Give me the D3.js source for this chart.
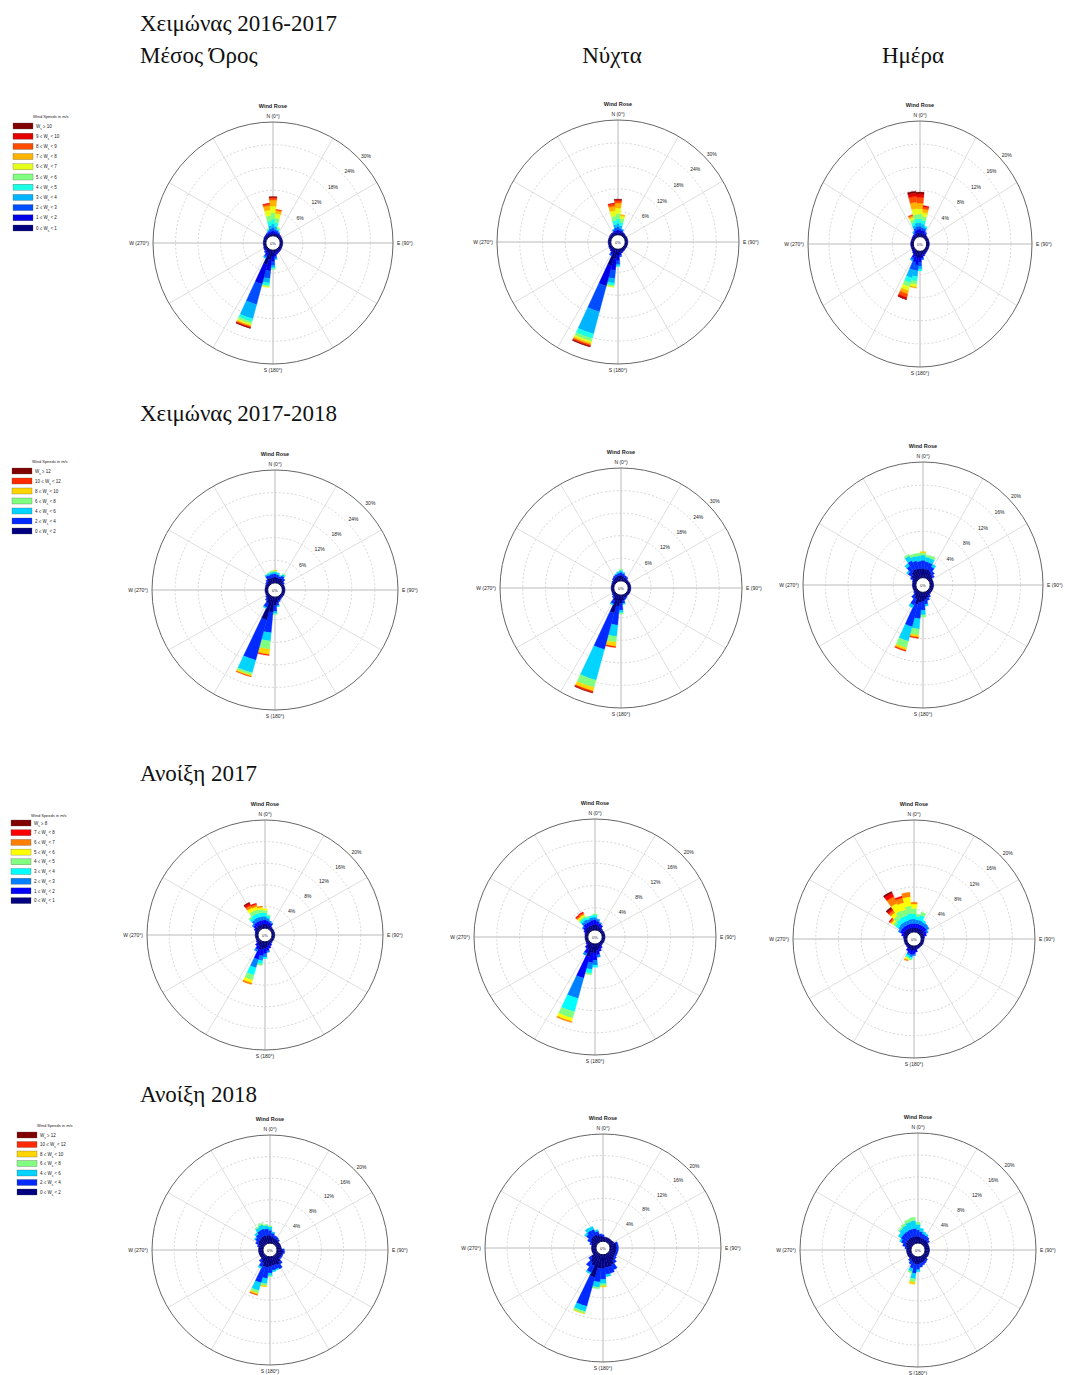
<!DOCTYPE html>
<html>
<head>
<meta charset="utf-8">
<script src="https://cdn.jsdelivr.net/npm/d3@7"></script>
<style>
  body { margin: 0; background: #fff; overflow: hidden; }
  svg { display: block; }
  svg text { font-family: "Liberation Sans", Arial, sans-serif; fill: #222; }
  .ttl { font-family: "Liberation Serif", "Times New Roman", serif; font-size: 23px; fill: #111; }
</style>
</head>
<body>
<svg id="fig" width="1065" height="1375"></svg>
<script>
// speed class lower edges (m/s), last class is open ended
const speeds11 = [0, 1, 2, 3, 4, 5, 6, 7, 8, 9, 10];
const speeds7 = [0, 2, 4, 6, 8, 10, 12];
const speeds9 = [0, 1, 2, 3, 4, 5, 6, 7, 8];

// ring tick labels (%)
const ticks30 = [6, 12, 18, 24, 30];
const ticks20 = [4, 8, 12, 16, 20];

const compass = [[0, "N (0°)"], [90, "E (90°)"], [180, "S (180°)"], [270, "W (270°)"]];

const rowTitles = ["Χειμώνας 2016-2017", "Χειμώνας 2017-2018", "Ανοίξη 2017", "Ανοίξη 2018"];
const colTitles = ["Μέσος Όρος", "Νύχτα", "Ημέρα"];

// frequency (%) per direction bin (10°), speed classes low -> high
const w1617Mean = [
  [0, [0.6, 0.7, 0.8, 1.0, 1.3, 1.6, 1.8, 1.6, 0.6, 0.2, 0.1]],
  [10, [0.6, 0.5, 0.6, 0.8, 1.0, 1.2, 1.2, 0.8, 0.3]],
  [20, [0.7, 0.4, 0.4, 0.3, 0.3, 0.2, 0.1]],
  [30, [0.7, 0.3, 0.2, 0.1]],
  [40, [0.7, 0.2]], [50, [0.7, 0.1]], [60, [0.7]], [70, [0.7]], [80, [0.7]], [90, [0.7]],
  [100, [0.7]], [110, [0.7]], [120, [0.7]], [130, [0.7, 0.1]], [140, [0.7, 0.2]], [150, [0.7, 0.3]],
  [160, [0.8, 0.4]],
  [170, [0.9, 0.8, 0.5, 0.3]],
  [180, [1.5, 1.5, 1.0, 0.6, 0.3, 0.2]],
  [190, [2.5, 3.0, 2.0, 1.2, 0.7, 0.3, 0.2]],
  [200, [4.0, 5.3, 5.6, 3.9, 0.8, 0.6, 0.4, 0.3, 0.2, 0.2, 0.1]],
  [210, [1.0, 0.8, 0.5, 0.3]],
  [220, [0.8, 0.4, 0.2]],
  [230, [0.7, 0.3]], [240, [0.7, 0.2]], [250, [0.7]], [260, [0.7]], [270, [0.7]], [280, [0.7]],
  [290, [0.7]], [300, [0.7, 0.1]], [310, [0.7, 0.2]], [320, [0.7, 0.3]],
  [330, [0.7, 0.3, 0.2]],
  [340, [0.7, 0.4, 0.3, 0.3, 0.2, 0.2]],
  [350, [0.6, 0.6, 0.7, 0.9, 1.1, 1.4, 1.5, 1.2, 0.5, 0.1]]
];

const w1617Night = [
  [0, [0.6, 0.7, 0.8, 0.9, 1.1, 1.4, 1.5, 1.3, 0.6, 0.3, 0.1]],
  [10, [0.6, 0.5, 0.6, 0.7, 0.9, 1.0, 0.7, 0.3]],
  [20, [0.7, 0.4, 0.3, 0.2]],
  [30, [0.7, 0.2]],
  [40, [0.7, 0.1]], [50, [0.7]], [60, [0.7]], [70, [0.7]], [80, [0.7]], [90, [0.7]],
  [100, [0.7]], [110, [0.7]], [120, [0.7]], [130, [0.7]], [140, [0.7, 0.1]], [150, [0.7, 0.2]],
  [160, [0.8, 0.3]],
  [170, [0.9, 0.7, 0.4]],
  [180, [1.5, 1.5, 0.9, 0.4, 0.2]],
  [190, [2.5, 3.0, 2.2, 1.2, 0.6, 0.3, 0.2]],
  [200, [4.5, 5.5, 7.0, 6.0, 1.2, 0.8, 0.5, 0.4, 0.3, 0.2, 0.1]],
  [210, [1.0, 0.7, 0.4]],
  [220, [0.8, 0.3]],
  [230, [0.7, 0.2]], [240, [0.7, 0.1]], [250, [0.7]], [260, [0.7]], [270, [0.7]], [280, [0.7]],
  [290, [0.7]], [300, [0.7]], [310, [0.7, 0.1]], [320, [0.7, 0.2]], [330, [0.7, 0.2]],
  [340, [0.7, 0.4, 0.3, 0.2]],
  [350, [0.6, 0.6, 0.7, 0.8, 1.0, 1.2, 1.4, 1.2, 0.6, 0.2]]
];

const w1617Day = [
  [0, [0.7, 0.6, 0.5, 0.6, 0.7, 0.8, 0.9, 1.0, 1.0, 0.6, 0.3]],
  [10, [0.6, 0.5, 0.5, 0.6, 0.6, 0.7, 0.7, 0.6, 0.4, 0.2]],
  [20, [0.6, 0.5, 0.4, 0.3, 0.2]],
  [30, [0.5, 0.3, 0.2]],
  [40, [0.5, 0.1]], [50, [0.5]], [60, [0.5]], [70, [0.5]], [80, [0.5]], [90, [0.5]],
  [100, [0.5]], [110, [0.5]], [120, [0.5]], [130, [0.5]], [140, [0.5, 0.1]], [150, [0.5, 0.2]],
  [160, [0.6, 0.3]],
  [170, [0.7, 0.5, 0.3]],
  [180, [1.0, 0.9, 0.7, 0.5, 0.3]],
  [190, [1.2, 1.2, 1.0, 1.0, 0.8, 0.6, 0.4, 0.2]],
  [200, [1.0, 1.0, 1.4, 1.4, 0.9, 0.7, 0.7, 0.6, 0.6, 0.3, 0.1]],
  [210, [0.8, 0.6, 0.4, 0.2]],
  [220, [0.5, 0.3]],
  [230, [0.5, 0.1]], [240, [0.5]], [250, [0.5]], [260, [0.5]], [270, [0.5]], [280, [0.5]],
  [290, [0.5]], [300, [0.5]], [310, [0.5, 0.1]], [320, [0.5, 0.2]],
  [330, [0.4, 0.3, 0.3, 0.2]],
  [340, [0.6, 0.5, 0.5, 0.5, 0.5, 0.5, 0.4, 0.3, 0.2]],
  [350, [0.7, 0.6, 0.5, 0.6, 0.7, 0.8, 1.0, 1.1, 1.0, 0.6, 0.3]]
];

const w1718Mean = [
  [0, [1.6, 0.9, 0.4, 0.3, 0.2]],
  [10, [1.4, 0.8, 0.5]],
  [20, [1.3, 0.6, 0.3]],
  [30, [1.5, 0.8, 0.4, 0.2]],
  [40, [1.2, 0.6]], [50, [0.8, 0.3]],
  [60, [0.7]], [70, [0.7]], [80, [0.7]], [90, [0.7]], [100, [0.7]], [110, [0.7]],
  [120, [0.7]], [130, [0.7]], [140, [0.7, 0.1]], [150, [0.8, 0.2]],
  [160, [1.0, 0.4]],
  [170, [1.5, 0.8, 0.3]],
  [180, [2.2, 1.6, 0.6, 0.2]],
  [190, [4.0, 5.5, 2.2, 2.2, 1.4, 0.3]],
  [200, [6.4, 11.0, 3.5, 0.6, 0.4, 0.1]],
  [210, [2.0, 1.2, 0.3]],
  [220, [1.2, 0.5]],
  [230, [0.8, 0.3]],
  [240, [0.7]], [250, [0.7]], [260, [0.7]], [270, [0.7]], [280, [0.7]], [290, [0.7]], [300, [0.7, 0.1]],
  [310, [0.8, 0.3]],
  [320, [1.0, 0.5]],
  [330, [1.6, 0.8, 0.3]],
  [340, [1.4, 0.9, 0.5, 0.2]],
  [350, [1.5, 0.9, 0.5, 0.3]]
];

const w1718Night = [
  [0, [1.5, 0.8, 0.5, 0.3]],
  [10, [1.3, 0.7, 0.3]],
  [20, [1.0, 0.5]],
  [30, [0.9, 0.4]],
  [40, [0.7, 0.1]], [50, [0.7]], [60, [0.7]], [70, [0.7]], [80, [0.7]], [90, [0.7]],
  [100, [0.7]], [110, [0.7]], [120, [0.7]], [130, [0.7]], [140, [0.7]], [150, [0.8, 0.2]],
  [160, [0.9, 0.4]],
  [170, [1.4, 0.8, 0.3]],
  [180, [2.2, 1.8, 0.7, 0.3]],
  [190, [3.0, 5.0, 3.0, 1.6, 1.1, 0.3]],
  [200, [5.0, 10.0, 8.5, 2.0, 1.0, 0.4, 0.1]],
  [210, [1.8, 1.0, 0.3]],
  [220, [1.0, 0.4]],
  [230, [0.8, 0.2]], [240, [0.7]], [250, [0.7]], [260, [0.7]], [270, [0.7]], [280, [0.7]],
  [290, [0.7]], [300, [0.7, 0.1]], [310, [0.8, 0.2]],
  [320, [1.0, 0.4]],
  [330, [1.2, 0.5]],
  [340, [1.3, 0.6, 0.2]],
  [350, [1.4, 0.7, 0.4]]
];

const w1718Day = [
  [0, [1.6, 1.4, 0.9, 0.4, 0.2]],
  [10, [1.5, 1.3, 0.8, 0.3]],
  [20, [1.5, 1.2, 0.8, 0.4]],
  [30, [1.3, 0.9, 0.5]],
  [40, [1.0, 0.6]],
  [50, [0.8, 0.4]],
  [60, [0.6]], [70, [0.6]], [80, [0.6]], [90, [0.6]], [100, [0.6]], [110, [0.6]],
  [120, [0.6]], [130, [0.6]], [140, [0.6, 0.1]],
  [150, [0.8, 0.3]],
  [160, [1.0, 0.5]],
  [170, [1.3, 0.8, 0.3]],
  [180, [1.6, 1.5, 0.8, 0.4]],
  [190, [1.8, 2.8, 1.8, 1.0, 0.4, 0.2]],
  [200, [2.2, 4.0, 2.6, 1.2, 0.4, 0.2]],
  [210, [1.4, 1.2, 0.5]],
  [220, [1.0, 0.6]],
  [230, [0.6, 0.2]], [240, [0.6]], [250, [0.6]], [260, [0.6]], [270, [0.6]], [280, [0.6]], [290, [0.6, 0.1]],
  [300, [0.8, 0.4]],
  [310, [1.2, 0.8, 0.3]],
  [320, [1.6, 1.2, 0.5]],
  [330, [1.8, 1.6, 0.9, 0.3]],
  [340, [1.7, 1.4, 0.8, 0.4]],
  [350, [1.6, 1.3, 0.9, 0.5]]
];

const s17Mean = [
  [0, [0.8, 0.7, 0.7, 0.6, 0.5, 0.3]],
  [10, [0.8, 0.6, 0.5, 0.4, 0.2]],
  [20, [0.7, 0.5, 0.3]],
  [30, [0.7, 0.4, 0.2]],
  [40, [0.5, 0.1]], [50, [0.5]], [60, [0.5]], [70, [0.5]], [80, [0.5]], [90, [0.5]],
  [100, [0.5]], [110, [0.5]], [120, [0.5]], [130, [0.5]], [140, [0.5, 0.1]],
  [150, [0.6, 0.3]],
  [160, [0.8, 0.5]],
  [170, [1.0, 0.7, 0.3]],
  [180, [1.2, 1.0, 0.6, 0.3]],
  [190, [1.4, 1.2, 0.9, 0.6, 0.3]],
  [200, [1.6, 1.8, 1.6, 1.4, 1.0, 0.5, 0.3]],
  [210, [1.0, 0.7, 0.4]],
  [220, [0.8, 0.4]],
  [230, [0.5, 0.2]], [240, [0.5]], [250, [0.5]], [260, [0.5]], [270, [0.5]], [280, [0.5]], [290, [0.5, 0.1]],
  [300, [0.6, 0.3]],
  [310, [0.8, 0.5, 0.3]],
  [320, [0.8, 0.7, 0.6, 0.5, 0.3]],
  [330, [0.8, 0.7, 0.7, 0.7, 0.7, 0.7, 0.5, 0.4, 0.2]],
  [340, [0.8, 0.7, 0.7, 0.7, 0.7, 0.6, 0.4, 0.2]],
  [350, [0.8, 0.7, 0.7, 0.7, 0.6, 0.4, 0.2]]
];

const s17Night = [
  [0, [1.0, 0.8, 0.5, 0.4, 0.2]],
  [10, [0.9, 0.7, 0.4]],
  [20, [0.8, 0.5, 0.2]],
  [30, [0.7, 0.4]],
  [40, [0.5, 0.1]], [50, [0.5]], [60, [0.5]], [70, [0.5]], [80, [0.5]], [90, [0.5]],
  [100, [0.5]], [110, [0.5]], [120, [0.5]], [130, [0.5]], [140, [0.5, 0.1]],
  [150, [0.7, 0.3]],
  [160, [0.9, 0.5]],
  [170, [1.2, 0.8, 0.4]],
  [180, [1.6, 1.3, 0.9, 0.4]],
  [190, [1.6, 1.8, 1.2, 0.7, 0.3]],
  [200, [2.4, 4.0, 3.8, 2.5, 1.2, 0.6, 0.2]],
  [210, [1.2, 0.8, 0.4]],
  [220, [0.8, 0.4]],
  [230, [0.5, 0.2]], [240, [0.5]], [250, [0.5]], [260, [0.5]], [270, [0.5]], [280, [0.5]], [290, [0.5, 0.1]],
  [300, [0.6, 0.3]],
  [310, [0.8, 0.5, 0.2]],
  [320, [0.9, 0.7, 0.5, 0.4, 0.3, 0.3, 0.3, 0.2]],
  [330, [0.9, 0.7, 0.6, 0.4, 0.3, 0.3, 0.3, 0.2]],
  [340, [0.9, 0.7, 0.5, 0.3, 0.2]],
  [350, [1.0, 0.8, 0.5, 0.3]]
];

const s17Day = [
  [0, [0.8, 0.7, 0.8, 0.9, 1.0, 0.8, 0.3]],
  [10, [0.8, 0.7, 0.7, 0.6, 0.4]],
  [20, [0.8, 0.7, 0.7, 0.9, 0.6]],
  [30, [0.8, 0.7, 0.6, 0.3]],
  [40, [0.8, 0.7, 0.6]],
  [50, [0.8, 0.7, 0.5]],
  [60, [0.7, 0.5, 0.3]],
  [70, [0.6, 0.4]],
  [80, [0.5, 0.1]], [90, [0.5]], [100, [0.5]], [110, [0.5]], [120, [0.5]], [130, [0.5]],
  [140, [0.5]], [150, [0.5]], [160, [0.5, 0.1]],
  [170, [0.7, 0.4]],
  [180, [0.8, 0.6, 0.3]],
  [190, [0.9, 0.7, 0.4, 0.3, 0.2]],
  [200, [0.8, 0.6, 0.4, 0.3, 0.2, 0.3, 0.2]],
  [210, [0.7, 0.4]],
  [220, [0.5, 0.1]], [230, [0.5]], [240, [0.5]], [250, [0.5]], [260, [0.5]], [270, [0.5]], [280, [0.5, 0.1]],
  [290, [0.6, 0.4]],
  [300, [0.8, 0.6, 0.4]],
  [310, [0.8, 0.7, 0.6, 0.6, 0.5, 0.4, 0.3, 0.2]],
  [320, [0.8, 0.7, 0.7, 0.8, 0.8, 0.7, 0.5, 0.4, 0.3]],
  [330, [0.8, 0.7, 0.7, 0.9, 1.2, 1.5, 1.3, 0.7, 0.3]],
  [340, [0.8, 0.7, 0.7, 0.9, 1.1, 1.3, 0.9, 0.3]],
  [350, [0.8, 0.7, 0.8, 1.0, 1.4, 1.6, 0.8]]
];

const s18Mean = [
  [0, [1.4, 1.0, 0.6, 0.2]],
  [10, [1.2, 0.7, 0.2]],
  [20, [1.0, 0.5]],
  [30, [1.0, 0.4]],
  [40, [0.9, 0.3]],
  [50, [0.8]], [60, [0.8]], [70, [0.8]], [80, [0.8]],
  [90, [1.0, 0.3]],
  [100, [1.1, 0.3]],
  [110, [1.0, 0.2]], [120, [1.0, 0.2]], [130, [1.0, 0.2]],
  [140, [1.4, 0.5]],
  [150, [1.8, 0.8]],
  [160, [1.6, 0.8, 0.2]],
  [170, [1.6, 0.9, 0.3]],
  [180, [1.8, 1.2, 0.5, 0.2]],
  [190, [2.0, 2.0, 1.0, 0.4, 0.2]],
  [200, [2.0, 3.0, 1.5, 0.5, 0.3, 0.1]],
  [210, [1.4, 0.8, 0.3]],
  [220, [1.0, 0.5]],
  [230, [0.8]], [240, [0.8]], [250, [0.8]], [260, [0.8]], [270, [0.8]], [280, [0.8]],
  [290, [0.8, 0.3]],
  [300, [1.1, 0.5]],
  [310, [1.3, 0.7, 0.2]],
  [320, [1.4, 0.9, 0.4]],
  [330, [1.5, 1.2, 0.6, 0.2]],
  [340, [1.5, 1.3, 0.8, 0.3]],
  [350, [1.5, 1.2, 0.6, 0.2]]
];

const s18Night = [
  [0, [0.9, 0.3]],
  [10, [0.8]], [20, [0.8]], [30, [0.8]], [40, [0.8]], [50, [0.8]],
  [60, [0.9]],
  [70, [1.2, 0.3]], [80, [1.2, 0.3]], [90, [1.2, 0.3]], [100, [1.2, 0.3]], [110, [1.2, 0.3]], [120, [1.2, 0.3]],
  [130, [1.3, 0.4]],
  [140, [1.6, 0.6]],
  [150, [2.2, 1.0]],
  [160, [2.4, 1.2]],
  [170, [2.4, 1.3, 0.4]],
  [180, [2.6, 2.0, 0.8, 0.4, 0.2]],
  [190, [2.6, 2.5, 1.0, 0.3]],
  [200, [4.4, 5.6, 1.0, 0.4, 0.1]],
  [210, [2.4, 1.4, 0.3]],
  [220, [2.0, 1.0]],
  [230, [1.4, 0.5]],
  [240, [0.8]], [250, [0.8]], [260, [0.8]], [270, [0.8]], [280, [0.8]],
  [290, [0.9, 0.3]],
  [300, [1.2, 0.6]],
  [310, [1.4, 1.0, 0.4]],
  [320, [1.5, 1.2, 0.6]],
  [330, [1.5, 1.1, 0.6]],
  [340, [1.3, 0.7, 0.3]],
  [350, [1.0, 0.4]]
];

const s18Day = [
  [0, [1.2, 1.2, 1.0, 0.4]],
  [10, [1.1, 1.0, 0.6]],
  [20, [1.0, 0.8, 0.4]],
  [30, [1.0, 0.7, 0.3]],
  [40, [1.0, 0.6]],
  [50, [0.9, 0.4]],
  [60, [0.8]], [70, [0.8]], [80, [0.8]], [90, [0.8]], [100, [0.8]], [110, [0.8]], [120, [0.8]], [130, [0.8]],
  [140, [0.9, 0.3]],
  [150, [1.0, 0.4]],
  [160, [1.1, 0.5]],
  [170, [1.2, 0.7]],
  [180, [1.3, 1.0, 0.4]],
  [190, [1.4, 1.6, 1.0, 0.6, 0.4]],
  [200, [1.2, 1.0, 0.6, 0.3]],
  [210, [1.0, 0.6]],
  [220, [0.9, 0.3]],
  [230, [0.8]], [240, [0.8]], [250, [0.8]], [260, [0.8]], [270, [0.8]],
  [280, [0.8, 0.3]],
  [290, [1.0, 0.6]],
  [300, [1.2, 0.9, 0.3]],
  [310, [1.3, 1.2, 0.6]],
  [320, [1.3, 1.3, 0.9, 0.3]],
  [330, [1.3, 1.3, 1.1, 0.4]],
  [340, [1.3, 1.4, 1.3, 0.5]],
  [350, [1.3, 1.4, 1.4, 0.6]]
];

// layout of the 12 roses
const roses = [
  { data: w1617Mean, speeds: speeds11, ticks: ticks30, cx: 273, cy: 243, rx: 120, ry: 121 },
  { data: w1617Night, speeds: speeds11, ticks: ticks30, cx: 618, cy: 242, rx: 121, ry: 122 },
  { data: w1617Day, speeds: speeds11, ticks: ticks20, cx: 920, cy: 244, rx: 112, ry: 123 },
  { data: w1718Mean, speeds: speeds7, ticks: ticks30, cx: 275, cy: 590, rx: 123, ry: 120 },
  { data: w1718Night, speeds: speeds7, ticks: ticks30, cx: 621, cy: 588, rx: 121, ry: 120 },
  { data: w1718Day, speeds: speeds7, ticks: ticks20, cx: 923, cy: 585, rx: 120, ry: 123 },
  { data: s17Mean, speeds: speeds9, ticks: ticks20, cx: 265, cy: 935, rx: 118, ry: 115 },
  { data: s17Night, speeds: speeds9, ticks: ticks20, cx: 595, cy: 937, rx: 121, ry: 118 },
  { data: s17Day, speeds: speeds9, ticks: ticks20, cx: 914, cy: 939, rx: 121, ry: 119 },
  { data: s18Mean, speeds: speeds7, ticks: ticks20, cx: 270, cy: 1250, rx: 118, ry: 115 },
  { data: s18Night, speeds: speeds7, ticks: ticks20, cx: 603, cy: 1248, rx: 118, ry: 114 },
  { data: s18Day, speeds: speeds7, ticks: ticks20, cx: 918, cy: 1250, rx: 118, ry: 117 }
];

const legends = [
  { speeds: speeds11, x: 13, y: 118, y0: 126, step: 10.2 },
  { speeds: speeds7, x: 12, y: 463, y0: 471, step: 10 },
  { speeds: speeds9, x: 11, y: 817, y0: 823, step: 9.7 },
  { speeds: speeds7, x: 17, y: 1127, y0: 1135, step: 9.5 }
];

const svg = d3.select("#fig");

// MATLAB style jet colormap
function jet(t) {
  const c = v => Math.round(255 * Math.max(0, Math.min(1, v)));
  return d3.rgb(c(1.5 - Math.abs(4 * t - 3)), c(1.5 - Math.abs(4 * t - 2)), c(1.5 - Math.abs(4 * t - 1))).toString();
}
function classColors(speeds) {
  const n = speeds.length;
  return d3.scaleOrdinal().domain(d3.range(n)).range(d3.range(n).map(i => jet(i / (n - 1))));
}

// headings
svg.append("text").attr("class", "ttl").attr("x", 140).attr("y", 31).text(rowTitles[0]);
svg.append("text").attr("class", "ttl").attr("x", 140).attr("y", 63).text(colTitles[0]);
svg.append("text").attr("class", "ttl").attr("x", 612).attr("y", 63).attr("text-anchor", "middle").text(colTitles[1]);
svg.append("text").attr("class", "ttl").attr("x", 913).attr("y", 63).attr("text-anchor", "middle").text(colTitles[2]);
svg.append("text").attr("class", "ttl").attr("x", 140).attr("y", 421).text(rowTitles[1]);
svg.append("text").attr("class", "ttl").attr("x", 140).attr("y", 781).text(rowTitles[2]);
svg.append("text").attr("class", "ttl").attr("x", 140).attr("y", 1102).text(rowTitles[3]);

const R = 100;      // base radius before stretching
const HOLE = 6;     // inner empty circle
const rad = Math.PI / 180;

roses.forEach(cfg => {
  const sx = cfg.rx / R, sy = cfg.ry / R;
  const g = svg.append("g").attr("transform", `translate(${cfg.cx},${cfg.cy})`);
  const m = g.append("g").attr("transform", `scale(${sx},${sy})`);
  const rmax = cfg.ticks[cfg.ticks.length - 1];
  const r = d3.scaleLinear().domain([0, rmax]).range([HOLE, R]);
  const color = classColors(cfg.speeds);

  // grid
  m.selectAll("line.spoke").data(d3.range(0, 180, 30)).join("line")
    .attr("x1", d => -R * Math.sin(d * rad)).attr("y1", d => R * Math.cos(d * rad))
    .attr("x2", d => R * Math.sin(d * rad)).attr("y2", d => -R * Math.cos(d * rad))
    .attr("stroke", d => d % 90 === 0 ? "#a8a8a8" : "#d6d6d6")
    .attr("stroke-width", 0.8).attr("vector-effect", "non-scaling-stroke");
  m.selectAll("circle.ring").data(cfg.ticks.slice(0, -1)).join("circle")
    .attr("r", d => r(d)).attr("fill", "none")
    .attr("stroke", "#cccccc").attr("stroke-width", 0.8).attr("stroke-dasharray", "2,2")
    .attr("vector-effect", "non-scaling-stroke");

  // stacked wedges
  const cells = [];
  cfg.data.forEach(([dir, vals]) => {
    let acc = 0;
    vals.forEach((v, i) => {
      if (v > 0) cells.push({ dir, i, a: acc, b: acc + v });
      acc += v;
    });
  });
  const arc = d3.arc()
    .innerRadius(d => r(d.a)).outerRadius(d => r(d.b))
    .startAngle(d => (d.dir - 5) * rad).endAngle(d => (d.dir + 5) * rad);
  m.selectAll("path.cell").data(cells).join("path")
    .attr("d", arc)
    .attr("fill", d => color(d.i))
    .attr("stroke", d => color(d.i)).attr("stroke-width", 0.3);

  // outer circle and hole
  m.append("circle").attr("r", R).attr("fill", "none")
    .attr("stroke", "#666").attr("stroke-width", 1).attr("vector-effect", "non-scaling-stroke");
  m.append("circle").attr("r", HOLE).attr("fill", "#fff")
    .attr("stroke", "#00004a").attr("stroke-width", 1).attr("vector-effect", "non-scaling-stroke");
  g.append("text").attr("y", 1.5).attr("text-anchor", "middle")
    .style("font-size", "4px").text("0%");

  // ring labels
  const la = 47 * rad;
  g.selectAll("text.tick").data(cfg.ticks).join("text")
    .attr("x", d => (r(d) + 6) * Math.sin(la) * sx)
    .attr("y", d => -(r(d) + 6) * Math.cos(la) * sy + 2)
    .attr("text-anchor", "middle")
    .style("font-size", "5px")
    .text(d => d + "%");

  // compass labels
  compass.forEach(([deg, lab]) => {
    const t = g.append("text").style("font-size", "5px").text(lab);
    if (deg === 0) t.attr("x", 0).attr("y", -cfg.ry - 4).attr("text-anchor", "middle");
    if (deg === 180) t.attr("x", 0).attr("y", cfg.ry + 8).attr("text-anchor", "middle");
    if (deg === 90) t.attr("x", cfg.rx + 4).attr("y", 2);
    if (deg === 270) t.attr("x", -cfg.rx - 4).attr("y", 2).attr("text-anchor", "end");
  });
  g.append("text").attr("y", -cfg.ry - 14).attr("text-anchor", "middle")
    .style("font-size", "5.5px").style("font-weight", "bold").text("Wind Rose");
});

// legends
legends.forEach(lg => {
  const n = lg.speeds.length;
  const color = classColors(lg.speeds);
  const g = svg.append("g");
  g.append("text").attr("x", lg.x + 20).attr("y", lg.y).style("font-size", "4px").text("Wind Speeds in m/s");
  const order = d3.range(n - 1, -1, -1);
  order.forEach((ci, k) => {
    const y = lg.y0 + k * lg.step;
    g.append("rect").attr("x", lg.x).attr("y", y - 3).attr("width", 20).attr("height", 6)
      .attr("fill", color(ci)).attr("stroke", "#555").attr("stroke-width", 0.3);
    const t = g.append("text").attr("x", lg.x + 23).attr("y", y + 1.6).style("font-size", "4.5px");
    if (ci === n - 1) {
      t.append("tspan").text("W");
      t.append("tspan").attr("baseline-shift", "sub").style("font-size", "3px").text("s");
      t.append("tspan").text(" ≥ " + lg.speeds[ci]);
    } else {
      t.append("tspan").text(lg.speeds[ci] + " ≤ W");
      t.append("tspan").attr("baseline-shift", "sub").style("font-size", "3px").text("s");
      t.append("tspan").text(" < " + lg.speeds[ci + 1]);
    }
  });
});
</script>
</body>
</html>
